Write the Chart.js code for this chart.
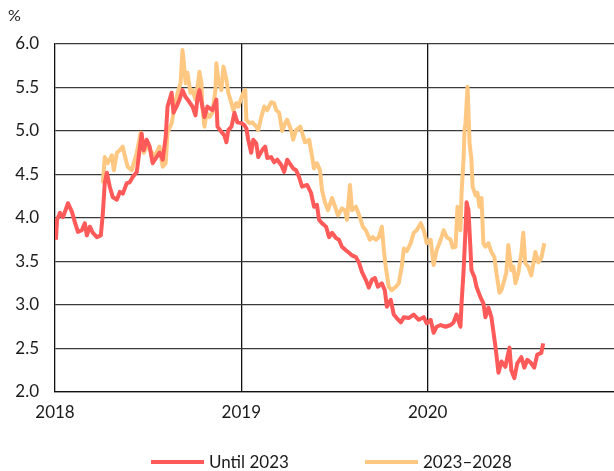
<!DOCTYPE html>
<html>
<head>
<meta charset="utf-8">
<script src="https://cdn.jsdelivr.net/npm/chart.js@4.4.1/dist/chart.umd.min.js"></script>
<style>
  html, body { margin: 0; padding: 0; background: #fff; }
  #wrap { position: relative; width: 614px; height: 471px; font-family: Lato, "Open Sans", sans-serif; color: #1a1a1a; }
  #c { position: absolute; left: 0; top: 0; }
  #unit { position: absolute; left: 8px; top: 5px; font-size: 16px; }
  .leg { position: absolute; top: 451px; font-size: 17px; display: flex; align-items: center; white-space: nowrap; }
  .leg span.sw { display: inline-block; width: 53px; height: 4px; margin-right: 5px; }
</style>
</head>
<body>
<div id="wrap">
  <canvas id="c" width="614" height="471"></canvas>
  <div id="unit">%</div>
  <div class="leg" style="left:151px"><span class="sw" style="background:#ff5a5a"></span>Until 2023</div>
  <div class="leg" style="left:365px"><span class="sw" style="background:#ffc882"></span>2023–2028</div>
</div>
<script>
// Time positions in decimal years, values in %
const redYears = [2018.005,2018.011,2018.027,2018.043,2018.070,2018.091,2018.107,2018.123,2018.144,2018.160,2018.171,2018.187,2018.203,2018.225,2018.246,2018.257,2018.267,2018.278,2018.294,2018.310,2018.332,2018.348,2018.364,2018.385,2018.401,2018.417,2018.439,2018.449,2018.465,2018.476,2018.492,2018.508,2018.524,2018.545,2018.561,2018.578,2018.594,2018.604,2018.626,2018.636,2018.652,2018.668,2018.684,2018.701,2018.722,2018.738,2018.754,2018.765,2018.775,2018.791,2018.802,2018.818,2018.845,2018.866,2018.872,2018.893,2018.909,2018.920,2018.930,2018.947,2018.963,2018.979,2019.000,2019.016,2019.027,2019.037,2019.053,2019.064,2019.080,2019.091,2019.112,2019.128,2019.139,2019.160,2019.176,2019.193,2019.214,2019.230,2019.246,2019.278,2019.294,2019.310,2019.326,2019.353,2019.374,2019.390,2019.406,2019.417,2019.433,2019.455,2019.471,2019.487,2019.508,2019.524,2019.540,2019.561,2019.578,2019.594,2019.615,2019.631,2019.647,2019.668,2019.684,2019.701,2019.717,2019.733,2019.754,2019.770,2019.781,2019.802,2019.818,2019.834,2019.856,2019.872,2019.898,2019.925,2019.952,2019.979,2019.995,2020.016,2020.032,2020.048,2020.070,2020.096,2020.123,2020.139,2020.155,2020.176,2020.182,2020.193,2020.203,2020.209,2020.219,2020.230,2020.235,2020.251,2020.262,2020.283,2020.299,2020.310,2020.326,2020.342,2020.364,2020.380,2020.396,2020.417,2020.439,2020.449,2020.465,2020.481,2020.503,2020.519,2020.535,2020.556,2020.572,2020.588,2020.610,2020.620];
const redValues = [3.75,3.98,4.06,4.01,4.17,4.07,3.95,3.84,3.86,3.94,3.80,3.90,3.83,3.78,3.80,4.06,4.40,4.52,4.36,4.24,4.21,4.30,4.28,4.40,4.41,4.47,4.53,4.70,4.97,4.78,4.90,4.82,4.63,4.70,4.75,4.67,4.93,5.28,5.44,5.21,5.28,5.36,5.47,5.39,5.33,5.28,5.18,5.38,5.47,5.28,5.16,5.28,5.24,5.36,5.05,4.99,4.95,4.87,5.01,5.05,5.21,5.10,5.09,5.07,5.03,4.90,4.75,4.90,4.86,4.70,4.78,4.82,4.69,4.70,4.64,4.67,4.61,4.53,4.67,4.57,4.55,4.47,4.36,4.38,4.29,4.13,4.15,3.98,3.94,3.90,3.78,3.83,3.77,3.75,3.67,3.63,3.60,3.57,3.55,3.49,3.38,3.29,3.20,3.29,3.31,3.21,3.25,3.17,2.98,3.06,2.89,2.85,2.80,2.86,2.85,2.89,2.83,2.86,2.79,2.83,2.68,2.75,2.77,2.75,2.77,2.80,2.89,2.75,3.02,3.40,3.86,4.18,4.09,3.63,3.40,3.32,3.21,3.09,3.02,2.86,2.97,2.86,2.52,2.22,2.35,2.29,2.51,2.25,2.16,2.33,2.40,2.28,2.37,2.33,2.28,2.43,2.45,2.56];
const orangeYears = [2018.257,2018.267,2018.283,2018.305,2018.316,2018.332,2018.348,2018.364,2018.374,2018.390,2018.412,2018.428,2018.439,2018.460,2018.476,2018.492,2018.513,2018.529,2018.545,2018.561,2018.578,2018.594,2018.604,2018.626,2018.642,2018.658,2018.674,2018.684,2018.690,2018.701,2018.711,2018.727,2018.738,2018.754,2018.765,2018.775,2018.786,2018.791,2018.802,2018.813,2018.829,2018.845,2018.861,2018.866,2018.877,2018.893,2018.904,2018.920,2018.930,2018.947,2018.957,2018.973,2018.984,2019.000,2019.011,2019.021,2019.027,2019.043,2019.059,2019.080,2019.091,2019.107,2019.123,2019.139,2019.160,2019.176,2019.187,2019.203,2019.219,2019.235,2019.246,2019.267,2019.278,2019.294,2019.316,2019.326,2019.342,2019.364,2019.380,2019.390,2019.406,2019.422,2019.433,2019.449,2019.465,2019.487,2019.503,2019.519,2019.540,2019.556,2019.567,2019.583,2019.594,2019.615,2019.636,2019.652,2019.668,2019.690,2019.706,2019.722,2019.738,2019.754,2019.765,2019.775,2019.791,2019.807,2019.829,2019.845,2019.861,2019.872,2019.888,2019.909,2019.925,2019.941,2019.963,2019.979,2019.995,2020.016,2020.032,2020.048,2020.070,2020.086,2020.102,2020.123,2020.134,2020.150,2020.160,2020.176,2020.182,2020.193,2020.198,2020.203,2020.214,2020.225,2020.235,2020.241,2020.257,2020.267,2020.278,2020.289,2020.299,2020.310,2020.326,2020.342,2020.358,2020.369,2020.385,2020.396,2020.412,2020.422,2020.433,2020.449,2020.460,2020.471,2020.487,2020.503,2020.513,2020.524,2020.540,2020.556,2020.578,2020.594,2020.610,2020.626];
const orangeValues = [4.40,4.70,4.63,4.72,4.55,4.75,4.78,4.82,4.72,4.59,4.55,4.67,4.75,4.98,4.75,4.82,4.78,4.72,4.75,4.82,4.59,4.63,4.98,5.09,5.28,5.44,5.55,5.93,5.82,5.55,5.67,5.44,5.47,5.36,5.51,5.68,5.55,5.28,5.05,5.21,5.16,5.21,5.47,5.78,5.59,5.47,5.74,5.59,5.44,5.32,5.24,5.32,5.28,5.38,5.44,5.47,5.13,5.09,5.10,5.05,5.01,5.16,5.28,5.24,5.33,5.32,5.24,5.21,5.00,5.09,5.13,5.01,4.90,5.01,5.05,4.98,4.87,4.90,4.70,4.57,4.63,4.55,4.32,4.18,4.09,4.23,4.13,4.03,4.11,4.09,3.98,4.38,4.09,4.13,4.01,3.90,3.86,3.75,3.78,3.75,3.78,3.90,3.63,3.44,3.21,3.17,3.21,3.25,3.44,3.65,3.62,3.71,3.83,3.86,3.94,3.86,3.71,3.75,3.46,3.63,3.75,3.86,3.78,3.75,3.66,3.67,4.13,3.86,4.29,4.70,5.01,5.09,5.51,4.86,4.67,4.36,4.26,4.29,4.13,4.23,3.71,3.67,3.71,3.61,3.55,3.37,3.14,3.17,3.29,3.37,3.69,3.40,3.44,3.25,3.37,3.60,3.83,3.48,3.44,3.34,3.61,3.49,3.54,3.71];
const seriesNames = ['Until 2023', '2023–2028'];
const yTicks = [2.0, 2.5, 3.0, 3.5, 4.0, 4.5, 5.0, 5.5, 6.0];
const xTickYears = [2018, 2019, 2020];

const toPoints = (xs, ys) => xs.map((x, i) => ({ x: x, y: ys[i] }));
const FONT = { family: 'Lato, "Open Sans", sans-serif', size: 17 };

new Chart(document.getElementById('c'), {
  type: 'line',
  data: {
    datasets: [
      { label: seriesNames[0], data: toPoints(redYears, redValues), borderColor: '#ff5a5a', backgroundColor: '#ff5a5a', borderWidth: 4, pointRadius: 0, tension: 0, borderJoinStyle: 'round' },
      { label: seriesNames[1], data: toPoints(orangeYears, orangeValues), borderColor: '#ffc882', backgroundColor: '#ffc882', borderWidth: 4, pointRadius: 0, tension: 0, borderJoinStyle: 'round' }
    ]
  },
  options: {
    responsive: false,
    animation: false,
    layout: { padding: { top: 44, right: 0, bottom: 0, left: 0 } },
    plugins: { legend: { display: false }, tooltip: { enabled: false } },
    scales: {
      x: {
        type: 'linear', min: 2018, max: 2021,
        afterBuildTicks: s => { s.ticks = xTickYears.map(v => ({ value: v })); },
        ticks: { color: '#1a1a1a', font: FONT, padding: 10, maxRotation: 0, autoSkip: false,
                 callback: v => String(v) },
        grid: { drawTicks: false, lineWidth: 1.3,
                color: ctx => (ctx.tick && (ctx.tick.value === 2019 || ctx.tick.value === 2020)) ? '#111' : 'rgba(0,0,0,0)' },
        border: { display: true, color: '#111', width: 1.3 },
        afterFit: s => { s.height = 79; s.paddingRight = 0; }
      },
      y: {
        min: 2, max: 6,
        afterBuildTicks: s => { s.ticks = yTicks.map(v => ({ value: v })); },
        ticks: { color: '#1a1a1a', font: FONT, padding: 16, callback: v => v.toFixed(1) },
        grid: { drawTicks: false, lineWidth: 1.3, color: '#3a3a3a' },
        border: { display: true, color: '#111', width: 1.3 },
        afterFit: s => { s.width = 55; }
      }
    }
  }
});
</script>
</body>
</html>
